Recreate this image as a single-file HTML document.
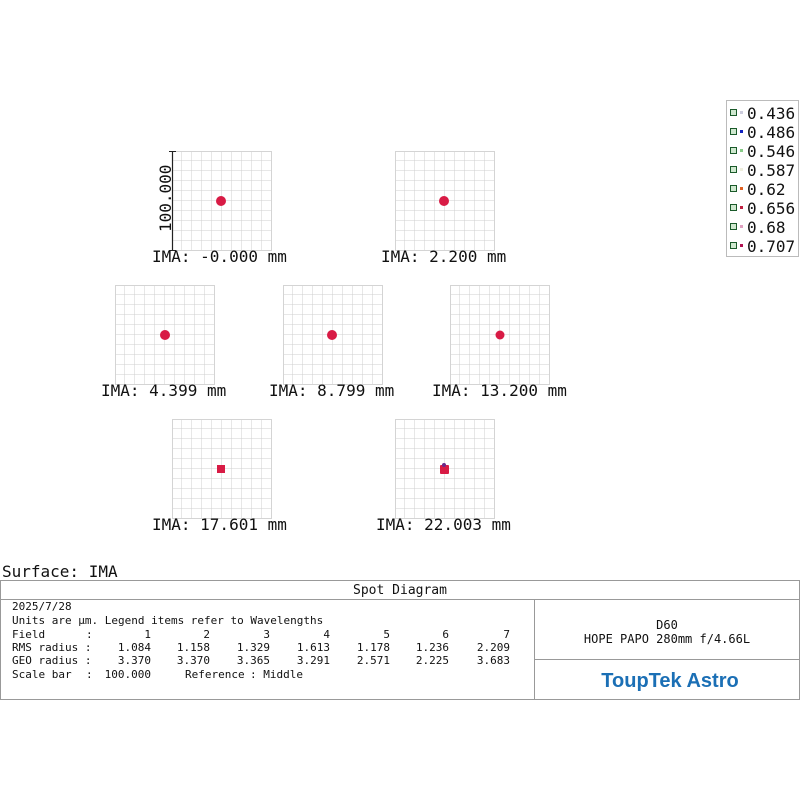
<!DOCTYPE html>
<html><head><meta charset="utf-8"><style>
html,body{margin:0;padding:0;background:#fff}
svg{display:block}
text{font-family:"DejaVu Sans Mono","Liberation Mono",monospace;fill:#111;white-space:pre}
</style></head><body>
<svg width="800" height="800" viewBox="0 0 800 800" xmlns="http://www.w3.org/2000/svg">
<defs>
<pattern id="g" width="10" height="10" patternUnits="userSpaceOnUse">
<path d="M10 0V10M0 10H10" stroke="#cfcfcf" stroke-width="1" fill="none"/>
</pattern>
<g id="box"><rect x="0" y="0" width="100" height="100" fill="url(#g)"/><rect x="0.5" y="0.5" width="99" height="99" fill="none" stroke="#d4d4d4"/></g>
</defs>
<use href="#box" x="172" y="151"/>
<use href="#box" x="395" y="151"/>
<use href="#box" x="115" y="285"/>
<use href="#box" x="283" y="285"/>
<use href="#box" x="450" y="285"/>
<use href="#box" x="172" y="419"/>
<use href="#box" x="395" y="419"/>
<line x1="172.5" y1="151" x2="172.5" y2="251" stroke="#222" stroke-width="1.2"/>
<line x1="169" y1="151.5" x2="176" y2="151.5" stroke="#222"/>
<line x1="169" y1="250.5" x2="176" y2="250.5" stroke="#222"/>
<text x="0" y="0" font-size="16" transform="translate(171,232) rotate(-90)">100.000</text>
<circle cx="221" cy="201" r="5" fill="#d81b45"/>
<circle cx="444" cy="201" r="5" fill="#d81b45"/>
<circle cx="165" cy="335" r="5" fill="#d81b45"/>
<circle cx="332" cy="335" r="5" fill="#d81b45"/>
<circle cx="500" cy="335" r="4.5" fill="#d81b45"/>
<rect x="217" y="465" width="8" height="8" fill="#d81b45"/>
<rect x="440" y="465" width="9" height="9" rx="1" fill="#d81b45"/>
<circle cx="444" cy="465" r="2" fill="#6a2a8a"/>
<g font-size="16">
<text x="152" y="262">IMA: -0.000 mm</text>
<text x="381" y="262">IMA: 2.200 mm</text>
<text x="101" y="396">IMA: 4.399 mm</text>
<text x="269" y="396">IMA: 8.799 mm</text>
<text x="432" y="396">IMA: 13.200 mm</text>
<text x="152" y="530">IMA: 17.601 mm</text>
<text x="376" y="530">IMA: 22.003 mm</text>
</g>
<rect x="726.5" y="100.5" width="72" height="156" fill="#fff" stroke="#bbb"/>
<g font-size="16">
<text x="747" y="119">0.436</text>
<text x="747" y="138">0.486</text>
<text x="747" y="157">0.546</text>
<text x="747" y="176">0.587</text>
<text x="747" y="195">0.62</text>
<text x="747" y="214">0.656</text>
<text x="747" y="233">0.68</text>
<text x="747" y="252">0.707</text>
</g>
<g stroke="#1a5a2a" fill="#cfe8cf" stroke-width="1">
<rect x="730.5" y="109.5" width="6" height="6"/><rect x="730.5" y="128.5" width="6" height="6"/>
<rect x="730.5" y="147.5" width="6" height="6"/><rect x="730.5" y="166.5" width="6" height="6"/>
<rect x="730.5" y="185.5" width="6" height="6"/><rect x="730.5" y="204.5" width="6" height="6"/>
<rect x="730.5" y="223.5" width="6" height="6"/><rect x="730.5" y="242.5" width="6" height="6"/>
</g>
<rect x="740" y="111" width="3" height="3" fill="#ccd"/>
<rect x="740" y="130" width="3" height="3" fill="#1020c0"/>
<rect x="740" y="149" width="3" height="3" fill="#8c8"/>
<rect x="740" y="168" width="3" height="3" fill="#eed"/>
<rect x="740" y="187" width="3" height="3" fill="#e06020"/>
<rect x="740" y="206" width="3" height="3" fill="#c02040"/>
<rect x="740" y="225" width="3" height="3" fill="#e0a0c0"/>
<rect x="740" y="244" width="3" height="3" fill="#b01050"/>
<text x="2" y="577" font-size="16">Surface: IMA</text>
<g fill="none" stroke="#999" stroke-width="1">
<rect x="0.5" y="580.5" width="799" height="119"/>
<line x1="0" y1="599.5" x2="800" y2="599.5"/>
<line x1="534.5" y1="600" x2="534.5" y2="700"/>
<line x1="534" y1="659.5" x2="800" y2="659.5"/>
</g>
<text x="400" y="594" font-size="13" text-anchor="middle">Spot Diagram</text>
<g font-size="11">
<text x="12" y="610">2025/7/28</text>
<text x="12" y="624">Units are µm. Legend items refer to Wavelengths</text>
<text x="12" y="638">Field</text><text x="86" y="638">:</text>
<text x="12" y="651">RMS radius :</text>
<text x="12" y="664">GEO radius :</text>
<text x="12" y="678">Scale bar</text><text x="86" y="678">:</text>
<text x="151" y="678" text-anchor="end">100.000</text>
<text x="185" y="678">Reference</text><text x="250" y="678">: Middle</text>
</g>
<g font-size="11" text-anchor="end">
<text x="151" y="638">1</text><text x="210" y="638">2</text><text x="270" y="638">3</text><text x="330" y="638">4</text><text x="390" y="638">5</text><text x="449" y="638">6</text><text x="510" y="638">7</text>
<text x="151" y="651">1.084</text><text x="210" y="651">1.158</text><text x="270" y="651">1.329</text><text x="330" y="651">1.613</text><text x="390" y="651">1.178</text><text x="449" y="651">1.236</text><text x="510" y="651">2.209</text>
<text x="151" y="664">3.370</text><text x="210" y="664">3.370</text><text x="270" y="664">3.365</text><text x="330" y="664">3.291</text><text x="390" y="664">2.571</text><text x="449" y="664">2.225</text><text x="510" y="664">3.683</text>
</g>
<text x="667" y="629" font-size="12" text-anchor="middle">D60</text>
<text x="667" y="643" font-size="12" text-anchor="middle">HOPE PAPO 280mm f/4.66L</text>
<text x="670" y="687" font-size="20" text-anchor="middle" style="font-family:'Liberation Sans',sans-serif;font-weight:bold;fill:#1b6fb5">ToupTek Astro</text>
</svg>
</body></html>
